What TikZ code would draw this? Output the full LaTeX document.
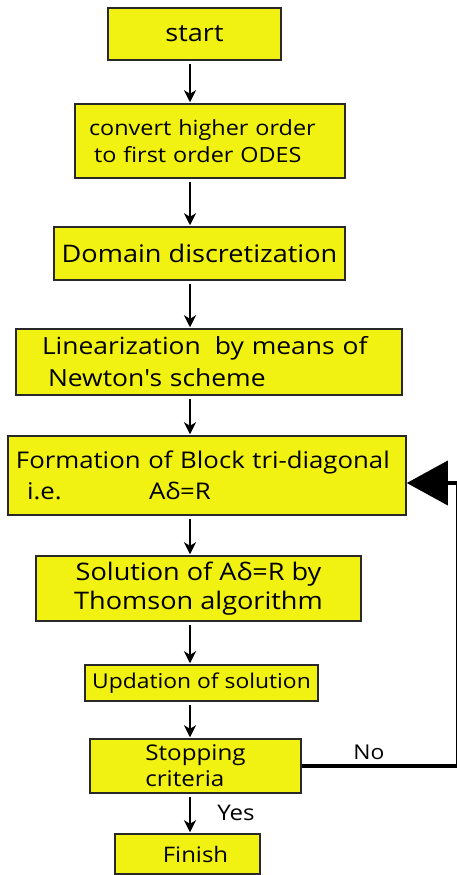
\documentclass[tikz,border=0pt]{standalone}
\usepackage{fontspec}
\setmainfont[FakeStretch=1.12]{Open Sans}
\usetikzlibrary{arrows.meta}
\definecolor{boxyellow}{RGB}{242,242,18}
\definecolor{boxedge}{RGB}{40,40,40}
\newcommand\fsz[2]{\fontsize{#1}{#2}\selectfont}
\begin{document}
\begin{tikzpicture}[x=1pt,y=-1pt,
  stepbox/.style={draw=boxedge, line width=1.5pt, fill=boxyellow, inner sep=0pt, text=black},
  arr/.style={line width=1.6pt, -{Stealth[length=12pt,width=12pt,inset=3.5pt]}, shorten <=3pt, shorten >=1pt},
  loopline/.style={line width=3.5pt},
  lbl/.style={inner sep=0pt, text=black},
]
\useasboundingbox (0,0) rectangle (457,875);

% process boxes
\node[stepbox, minimum width=173pt, minimum height=52pt, font=\fsz{24.2}{28}] (start) at (194.5,34)
  {start};
\node[stepbox, minimum width=270pt, minimum height=74pt, text width=242pt, align=left, font=\fsz{20.9}{27}] (convert) at (210,141)
  {\mbox{convert higher order}\\\hspace*{5pt}\mbox{to first order ODES}};
\node[stepbox, minimum width=291pt, minimum height=53pt, font=\fsz{24.2}{28}] (domain) at (199.5,253.5)
  {Domain discretization};
\node[stepbox, minimum width=386pt, minimum height=66pt, text width=334pt, align=left, font=\fsz{23.6}{32}] (linear) at (209,362)
  {\mbox{Linearization\hspace{14pt}by means of}\\\hspace*{6pt}\mbox{Newton\textquotesingle s scheme}};
\node[stepbox, minimum width=398pt, minimum height=79pt, text width=382pt, align=left, font=\fsz{23}{31}] (form) at (207,475.5)
  {\mbox{Formation of Block tri-diagonal}\\\hspace*{11pt}\makebox[122pt][l]{i.e.}Aδ=R};
\node[stepbox, minimum width=325pt, minimum height=65pt, align=center, font=\fsz{24.2}{29}] (solve) at (198.5,588.5)
  {Solution of Aδ=R by\\Thomson algorithm};
\node[stepbox, minimum width=233pt, minimum height=36pt, font=\fsz{20.4}{25}] (update) at (201.5,683)
  {Updation of solution};
\node[stepbox, minimum width=211pt, minimum height=54pt, align=left, font=\fsz{21.6}{26}] (stop) at (195.5,766)
  {Stopping\\criteria};
\node[stepbox, minimum width=145pt, minimum height=40pt, font=\fsz{21.4}{26}] (finish) at (187.5,854)
  {\hspace*{16pt}Finish};

% main flow
\coordinate (ax) at (190,0);
\draw[arr] (start.south -| ax) -- (convert.north -| ax);
\draw[arr] (convert.south -| ax) -- (domain.north -| ax);
\draw[arr] (domain.south -| ax) -- (linear.north -| ax);
\draw[arr] (linear.south -| ax) -- (form.north -| ax);
\draw[arr] (form.south -| ax) -- (solve.north -| ax);
\draw[arr] (solve.south -| ax) -- (update.north -| ax);
\draw[arr] (update.south -| ax) -- (stop.north -| ax);
\draw[arr] (stop.south -| ax) -- (finish.north -| ax);
\node[lbl, font=\fsz{21.5}{24}] (yes) at (236,813) {Yes};

% iteration loop back to the block tri-diagonal step
\coordinate (fbT) at (456,483);
\coordinate (edge) at (457,0);
\draw[loopline] (stop.east) -- (stop.east -| edge);
\draw[line width=0.9pt] (stop.east -| fbT) -- (fbT);
\draw[loopline, -{Triangle[length=41pt,width=44pt]}] (fbT -| edge) -- (fbT -| form.east);
\node[lbl, font=\fsz{20.4}{24}] (no) at (369,752) {No};
\end{tikzpicture}
\end{document}
